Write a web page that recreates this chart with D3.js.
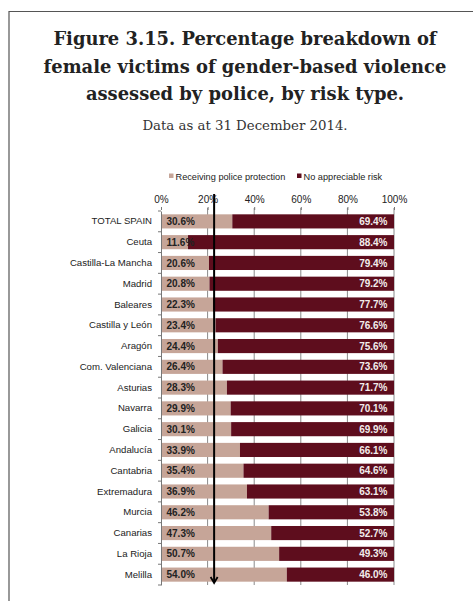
<!DOCTYPE html>
<html><head><meta charset="utf-8">
<script src="https://cdn.jsdelivr.net/npm/d3@7"></script>
<style>body{margin:0;background:#fff}svg{display:block}</style>
</head><body>
<script>
const categories = ["TOTAL SPAIN","Ceuta","Castilla-La Mancha","Madrid","Baleares","Castilla  y León","Aragón","Com. Valenciana","Asturias","Navarra","Galicia","Andalucía","Cantabria","Extremadura","Murcia","Canarias","La Rioja","Melilla"];
const protection = [30.6,11.6,20.6,20.8,22.3,23.4,24.4,26.4,28.3,29.9,30.1,33.9,35.4,36.9,46.2,47.3,50.7,54.0];
const noRisk = [69.4,88.4,79.4,79.2,77.7,76.6,75.6,73.6,71.7,70.1,69.9,66.1,64.6,63.1,53.8,52.7,49.3,46.0];
const seriesNames = ["Receiving police protection","No appreciable risk"];
const tickValues = [0,20,40,60,80,100];
const arrowAt = [22.8];
const titleLines = ["Figure 3.15. Percentage breakdown of","female victims of gender-based violence","assessed by police, by risk type."];
const subtitle = "Data as at 31 December 2014.";

const W=474,H=601;
const colors=["#c6a598","#5e0d1d"];
const svg=d3.select("body").append("svg").attr("width",W).attr("height",H);

// frame
svg.append("path").attr("d","M9,601 V11.5 H473").attr("fill","none").attr("stroke","#555").attr("stroke-width",1.2);

// title
const serif="'DejaVu Serif', Georgia, serif";
svg.append("g").selectAll("text").data(titleLines).join("text")
  .attr("x",245).attr("y",(d,i)=>45+i*27.5).attr("text-anchor","middle")
  .attr("font-family",serif).attr("font-weight","bold").attr("font-size",17.9).attr("fill","#222")
  .text(d=>d);
svg.append("text").attr("x",245).attr("y",130).attr("text-anchor","middle")
  .attr("font-family",serif).attr("font-size",13.3).attr("fill","#333").text(subtitle);

const sans="'Liberation Sans', Arial, sans-serif";
const x=d3.scaleLinear().domain([0,100]).range([161,394]);
const y=d3.scaleBand().domain(categories).range([211,585]).paddingInner(0.32).paddingOuter(0.16);

// legend
const leg=svg.append("g").attr("font-family",sans).attr("font-size",9.2).attr("fill","#222");
const legX=[169,297];
seriesNames.forEach((n,i)=>{
  leg.append("rect").attr("x",legX[i]).attr("y",173.5).attr("width",4.5).attr("height",4.5).attr("fill",colors[i]);
  leg.append("text").attr("x",legX[i]+6.5).attr("y",179.5).text(n);
});

// gridlines
svg.append("g").selectAll("line").data(tickValues.slice(1)).join("line")
  .attr("x1",d=>x(d)).attr("x2",d=>x(d)).attr("y1",208).attr("y2",585)
  .attr("stroke","#8a8a8a").attr("stroke-width",1);

// top axis
const ax=svg.append("g").attr("transform","translate(0,210)")
  .call(d3.axisTop(x).tickValues(tickValues).tickFormat(d=>d+"%").tickSize(3).tickPadding(4));
ax.select(".domain").remove();
ax.selectAll("line").attr("stroke","#777");
ax.selectAll("text").attr("font-family",sans).attr("font-size",10).attr("fill","#222");

// bars
const rows=categories.map((c,i)=>({c,p:protection[i],n:noRisk[i]}));
const g=svg.append("g");
g.selectAll("rect.p").data(rows).join("rect").attr("class","p")
  .attr("x",x(0)).attr("y",d=>y(d.c)).attr("width",d=>x(d.p)-x(0)).attr("height",y.bandwidth()).attr("fill",colors[0]);
g.selectAll("rect.n").data(rows).join("rect").attr("class","n")
  .attr("x",d=>x(d.p)).attr("y",d=>y(d.c)).attr("width",d=>x(100)-x(d.p)).attr("height",y.bandwidth()).attr("fill",colors[1]);
g.selectAll("text.pl").data(rows).join("text").attr("class","pl")
  .attr("x",x(0)+5.5).attr("y",d=>y(d.c)+y.bandwidth()/2+3.6)
  .attr("font-family",sans).attr("font-weight","bold").attr("font-size",10).attr("fill","#222")
  .text(d=>d.p.toFixed(1)+"%");
g.selectAll("text.nl").data(rows).join("text").attr("class","nl")
  .attr("x",x(100)-6.5).attr("y",d=>y(d.c)+y.bandwidth()/2+3.6).attr("text-anchor","end")
  .attr("font-family",sans).attr("font-weight","bold").attr("font-size",10).attr("fill","#f2ecec")
  .text(d=>d.n.toFixed(1)+"%");

// left axis
const ly=svg.append("g").attr("transform",`translate(${x(0)},0)`)
  .call(d3.axisLeft(y).tickSize(0).tickPadding(9));
ly.select(".domain").attr("stroke","#777");
ly.selectAll("text").attr("font-family",sans).attr("font-size",9.6).attr("fill","#222");
// boundary ticks
const bounds=categories.map(c=>y(c)-y.step()*y.paddingInner()/2).concat([585]);
svg.append("g").selectAll("line").data(bounds).join("line")
  .attr("x1",x(0)-3).attr("x2",x(0)).attr("y1",d=>d).attr("y2",d=>d).attr("stroke","#777");

// arrow
const ag=svg.append("g");
arrowAt.forEach(v=>{
  const ax0=x(v);
  ag.append("line").attr("x1",ax0).attr("x2",ax0).attr("y1",194).attr("y2",582)
    .attr("stroke","#000").attr("stroke-width",2);
  ag.append("path").attr("d",`M${ax0-3.5},${577} L${ax0},${583} L${ax0+3.5},${577}`)
    .attr("fill","none").attr("stroke","#000").attr("stroke-width",1.8);
});
</script>
</body></html>
